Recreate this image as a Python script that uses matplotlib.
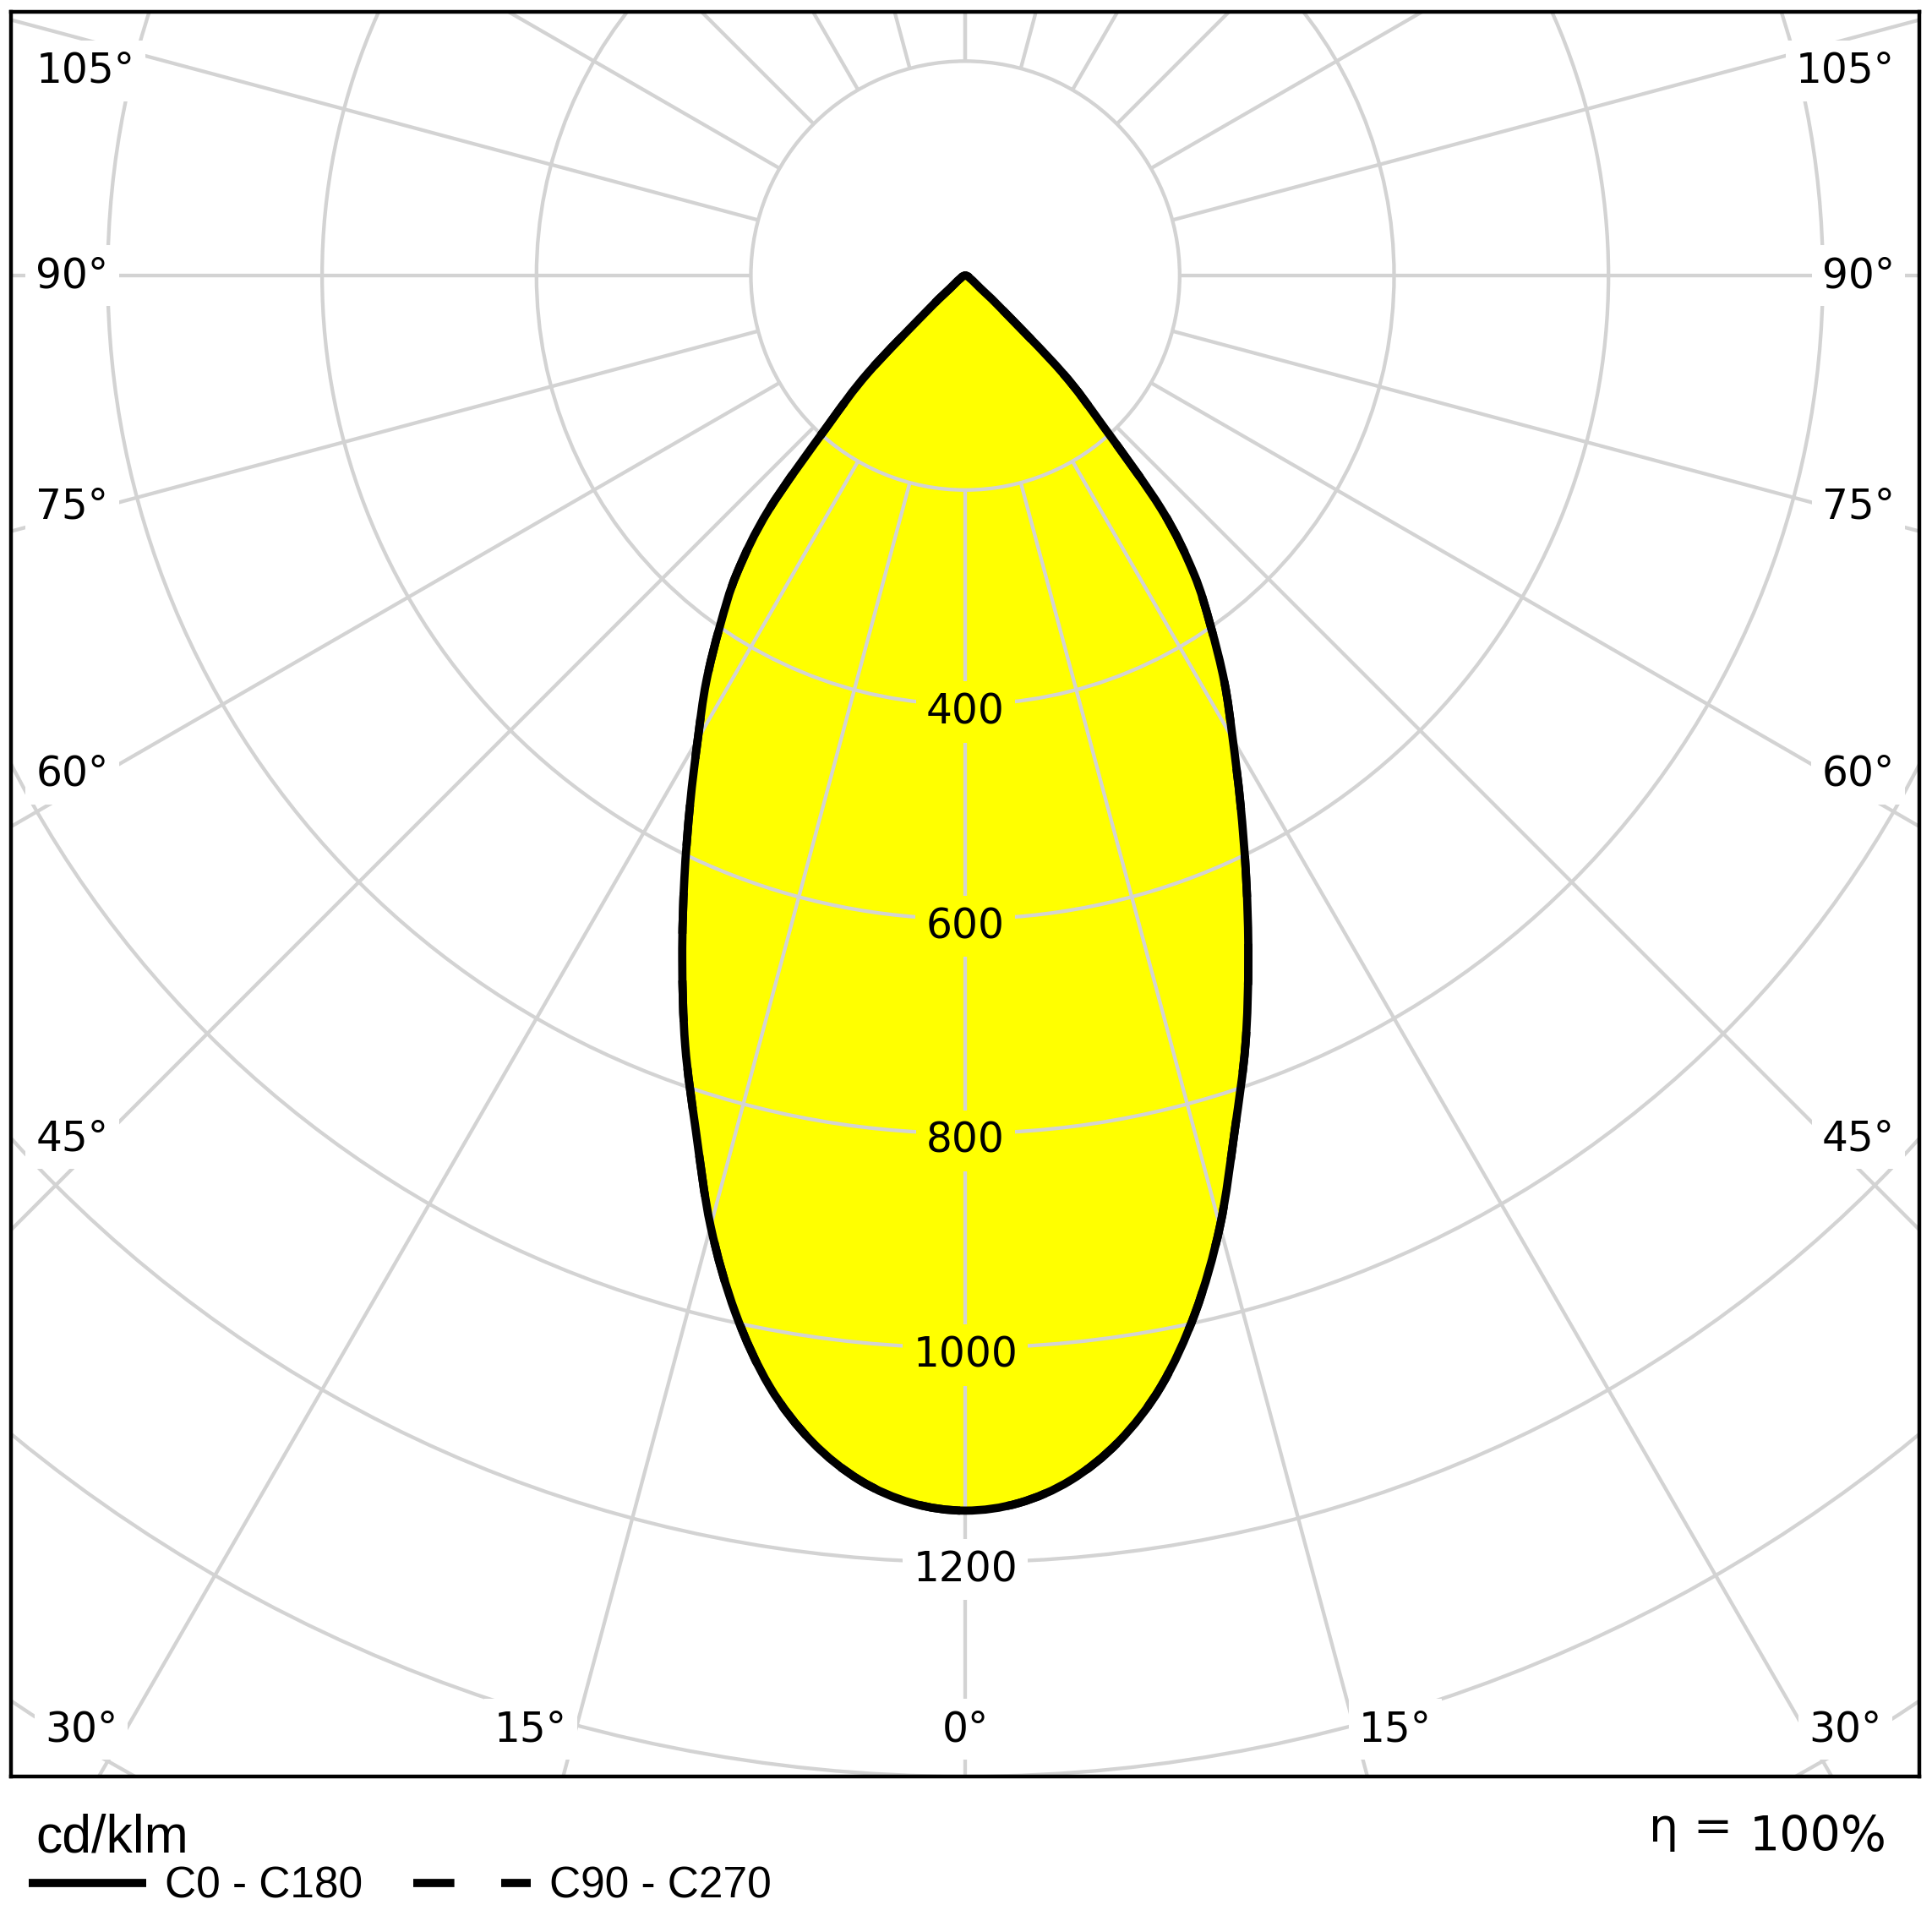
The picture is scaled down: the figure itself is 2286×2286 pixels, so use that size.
import numpy as np
import matplotlib
matplotlib.use("Agg")
import matplotlib.pyplot as plt
from matplotlib.lines import Line2D
from matplotlib.patches import Circle, PathPatch
from matplotlib.path import Path
from matplotlib import font_manager as fm
import matplotlib.transforms as mtransforms

# ---------------- data (cd/klm) ----------------
gamma_deg = [0, 2.5, 5, 7.5, 10, 12.5, 15, 17.5, 20, 22.5, 25, 27.5, 30,
             32.5, 35, 37.5, 40, 42.5, 45, 47.5, 50, 55, 60, 70, 80, 90]
c0_values = [1152, 1146, 1128, 1097, 1052, 991, 918, 836, 764, 690, 620, 556, 499,
             450, 399, 350, 285, 190, 128, 45, 18, 9, 5, 3, 1, 0]
c180_values = [1152, 1146, 1128, 1097, 1052, 991, 918, 836, 764, 690, 620, 556, 499,
               450, 399, 350, 285, 190, 128, 45, 18, 9, 5, 3, 1, 0]
c90_values = [1152, 1146, 1128, 1097, 1052, 991, 918, 836, 764, 690, 620, 556, 499,
              450, 399, 350, 285, 190, 128, 45, 18, 9, 5, 3, 1, 0]
c270_values = [1152, 1146, 1128, 1097, 1052, 991, 918, 836, 764, 690, 620, 556, 499,
               450, 399, 350, 285, 190, 128, 45, 18, 9, 5, 3, 1, 0]

ring_values = [200, 400, 600, 800, 1000, 1200, 1400, 1600]
ring_labels = [400, 600, 800, 1000, 1200]
spoke_angles = [15 * k for k in range(-12, 13)]
bottom_angle_labels = [-30, -15, 0, 15, 30]
side_angle_labels = [45, 60, 75, 90, 105]
legend_labels = ["C0 - C180", "C90 - C270"]
unit_label = "cd/klm"
eta_label = "100%"

# ---------------- styling ----------------
W = H = 2286
DPI = 100
GRID = "#d3d3d3"
YELLOW = "#ffff00"
XLIM = (-890, 890)
YLIM = (-1400, 246)
GRID_LW = 3.1
CURVE_LW = 7.0

names = {f.name for f in fm.fontManager.ttflist}
narrow = "Liberation Sans Narrow" if "Liberation Sans Narrow" in names else "Liberation Sans"
is_narrow = narrow == "Liberation Sans Narrow"
plt.rcParams["font.family"] = ["DejaVu Sans"]

fig = plt.figure(figsize=(W / DPI, H / DPI), dpi=DPI)
ax = fig.add_axes([13.3 / W, (H - 2102) / H, (2271 - 13.3) / W, (2102 - 14) / H])
ax.set_xlim(*XLIM)
ax.set_ylim(*YLIM)
ax.set_xticks([])
ax.set_yticks([])
for s in ax.spines.values():
    s.set_linewidth(3.2)
    s.set_color("black")
    s.set_zorder(10)


def to_xy(gdeg, vals, side):
    g = np.radians(np.asarray(gdeg, float))
    v = np.asarray(vals, float)
    return side * v * np.sin(g), -v * np.cos(g)


def smooth_path(x, y):
    """Catmull-Rom through the data points, expressed as cubic Bezier segments."""
    P = np.column_stack([x, y])
    n = len(P)
    verts = [P[0]]
    codes = [Path.MOVETO]
    for i in range(n - 1):
        p0 = P[i - 1] if i > 0 else P[i]
        p1, p2 = P[i], P[i + 1]
        p3 = P[i + 2] if i + 2 < n else P[i + 1]
        c1 = p1 + (p2 - p0) / 6.0
        c2 = p2 - (p3 - p1) / 6.0
        verts += [c1, c2, p2]
        codes += [Path.CURVE4] * 3
    return Path(np.array(verts), codes)


# curve: C180 on the left, C0 on the right
xl, yl = to_xy(gamma_deg, c180_values, -1)
xr, yr = to_xy(gamma_deg, c0_values, 1)
cx = np.concatenate([xl[::-1], xr[1:]])
cy = np.concatenate([yl[::-1], yr[1:]])
path_c0 = smooth_path(cx, cy)

xl2, yl2 = to_xy(gamma_deg, c270_values, -1)
xr2, yr2 = to_xy(gamma_deg, c90_values, 1)
dx = np.concatenate([xl2[::-1], xr2[1:]])
dy = np.concatenate([yl2[::-1], yr2[1:]])
path_c90 = smooth_path(dx, dy)

ax.add_patch(PathPatch(path_c0, fc=YELLOW, ec="none", lw=0, zorder=1))

# grid
for r in ring_values:
    ax.add_patch(Circle((0, 0), r, fill=False, ec=GRID, lw=GRID_LW, zorder=2))
r_in, r_out = ring_values[0], 3000
for a in spoke_angles:
    g = np.radians(a)
    ax.plot([r_in * np.sin(g), r_out * np.sin(g)], [-r_in * np.cos(g), -r_out * np.cos(g)],
            color=GRID, lw=GRID_LW, zorder=2, solid_capstyle="butt")

# ring labels
lbl_tr = mtransforms.offset_copy(ax.transData, fig=fig, x=0, y=-9, units="dots")
for r in ring_labels:
    fc = YELLOW if r < c0_values[0] else "white"
    ax.text(0, -r, str(r), ha="center", va="center", fontsize=35, transform=lbl_tr,
            zorder=3, bbox=dict(boxstyle="square,pad=0.25", fc=fc, ec="none"))

# curves
ax.add_patch(PathPatch(path_c90, fill=False, ec="black", lw=CURVE_LW, linestyle=(0, (5.0, 5.7)),
                       capstyle="butt", zorder=4))
ax.add_patch(PathPatch(path_c0, fill=False, ec="black", lw=CURVE_LW, joinstyle="round",
                       capstyle="round", zorder=5))

# angle labels
bbox_w = dict(boxstyle="square,pad=0.25", fc="white", ec="none")
y_bottom = YLIM[0] + 44
for a in bottom_angle_labels:
    g = np.radians(a)
    x = -y_bottom * np.tan(g)
    if a < 0:
        ax.text(x - 8, y_bottom, f"{abs(a)}°", ha="right", va="center", fontsize=35, zorder=6, bbox=bbox_w)
    elif a > 0:
        ax.text(x + 4, y_bottom, f"{a}°", ha="left", va="center", fontsize=35, zorder=6, bbox=bbox_w)
    else:
        ax.text(x, y_bottom, f"{a}°", ha="center", va="center", fontsize=35, zorder=6, bbox=bbox_w)

x_ref = 805
x_txt = 867
y_max = YLIM[1] - 55
for a in side_angle_labels:
    g = np.radians(a)
    y = -x_ref * np.cos(g) / np.sin(g)
    y = min(y, y_max)
    ax.text(-x_txt, y, f"{a}°", ha="left", va="center", fontsize=35, zorder=6, bbox=bbox_w)
    ax.text(x_txt, y, f"{a}°", ha="right", va="center", fontsize=35, zorder=6, bbox=bbox_w)

# footer texts
fig.text(42 / W, 1 - 2192 / H, unit_label, ha="left", va="baseline",
         fontsize=52 if is_narrow else 45, family=[narrow, "DejaVu Sans"])
fig.text(2233 / W, 1 - 2190 / H, eta_label, ha="right", va="baseline", fontsize=41)
fig.text(2050 / W, 1 - 2164 / H, "η =", ha="right", va="center", fontsize=40)

handles = [Line2D([], [], color="black", lw=CURVE_LW, solid_capstyle="butt"),
           Line2D([], [], color="black", lw=CURVE_LW, dashes=(5.0, 5.7), dash_capstyle="butt")]
leg_size = 40 if is_narrow else 37
fig.legend(handles, legend_labels, loc="center left", bbox_to_anchor=(34 / W, 1 - 2232 / H),
           ncol=2, frameon=False, prop=fm.FontProperties(family=[narrow, "DejaVu Sans"], size=leg_size),
           handlelength=139 / (leg_size * DPI / 72), handletextpad=22 / (leg_size * DPI / 72),
           columnspacing=60 / (leg_size * DPI / 72), borderpad=0, borderaxespad=0)

fig.savefig("out.png", dpi=DPI, facecolor="white")
